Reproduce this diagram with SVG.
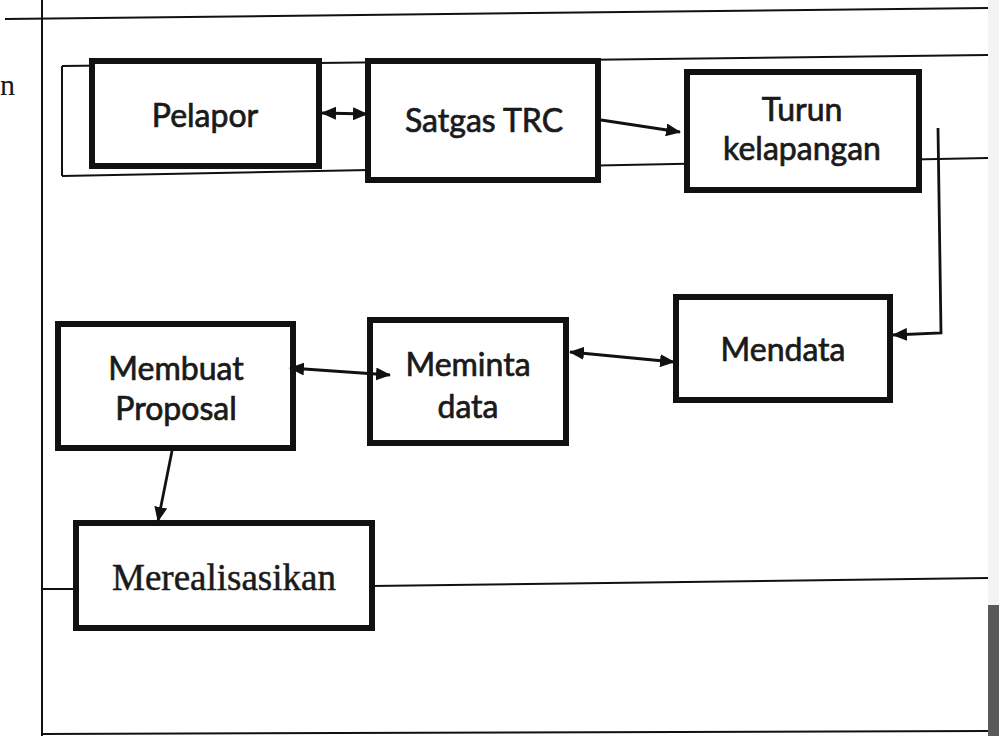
<svg xmlns="http://www.w3.org/2000/svg" width="999" height="736" viewBox="0 0 999 736">
<style>
.box{fill:#fff;stroke:#111;stroke-width:6}
.thin{fill:none;stroke:#111;stroke-width:2}
.con{fill:none;stroke:#111;stroke-width:2.8}
.lbl{font-family:Lato,"Open Sans",sans-serif;font-size:32px;fill:#1a1a1a;stroke:#1a1a1a;stroke-width:0.7;text-anchor:middle}
.ser{font-family:"Liberation Serif",serif;font-size:37px;fill:#1a1a1a;stroke:#1a1a1a;stroke-width:0.5;text-anchor:middle}
</style>
<defs>
<marker id="ah" viewBox="0 0 15 13" refX="14" refY="6.5" markerWidth="15" markerHeight="13" markerUnits="userSpaceOnUse" orient="auto-start-reverse">
<path d="M0,0 L15,6.5 L0,13 Z" fill="#111"/>
</marker>
</defs>
<rect x="0" y="0" width="999" height="736" fill="#fff"/>
<rect x="988" y="0" width="11" height="605" fill="#f3f3f3"/>
<rect x="988" y="605" width="11" height="131" fill="#5a5a5a"/>
<g id="frame">
<line class="thin" x1="42" y1="0" x2="42" y2="736"/>
<line class="thin" x1="5" y1="19" x2="988" y2="8"/>
<line class="thin" x1="62" y1="66" x2="988" y2="55"/>
<line class="thin" x1="62" y1="176" x2="988" y2="158"/>
<line class="thin" x1="62" y1="66" x2="62" y2="176"/>
<line class="thin" x1="42" y1="589" x2="76" y2="589"/>
<line class="thin" x1="372" y1="586" x2="988" y2="578"/>
<line class="thin" x1="42" y1="734" x2="988" y2="731"/>
<text x="0" y="95" style="font-family:'Liberation Serif',serif;font-size:30px;fill:#1a1a1a">n</text>
</g>
<g id="pelapor">
<rect class="box" x="92" y="61" width="227" height="105"/>
<text class="lbl" x="205" y="127">Pelapor</text>
</g>
<g id="satgas">
<rect class="box" x="368" y="61" width="230" height="119"/>
<text class="lbl" x="484" y="132">Satgas TRC</text>
</g>
<g id="turun">
<rect class="box" x="687" y="72" width="232" height="118"/>
<text class="lbl" x="802" y="121">Turun</text>
<text class="lbl" x="802" y="160">kelapangan</text>
</g>
<g id="mendata">
<rect class="box" x="676" y="297" width="214" height="103"/>
<text class="lbl" x="783" y="361">Mendata</text>
</g>
<g id="meminta">
<rect class="box" x="370" y="320" width="196" height="123"/>
<text class="lbl" x="468" y="376">Meminta</text>
<text class="lbl" x="468" y="418">data</text>
</g>
<g id="membuat">
<rect class="box" x="58" y="324" width="235" height="124"/>
<text class="lbl" x="176" y="380">Membuat</text>
<text class="lbl" x="176" y="420">Proposal</text>
</g>
<g id="merealisasikan">
<rect class="box" x="76" y="523" width="296" height="105"/>
<text class="ser" x="224" y="590">Merealisasikan</text>
</g>
<g id="connectors">
<line class="con" x1="322" y1="113" x2="367" y2="114" marker-start="url(#ah)" marker-end="url(#ah)"/>
<line class="con" x1="601" y1="120" x2="680" y2="132" marker-end="url(#ah)"/>
<polyline class="con" points="938,128 941,333 893,335" marker-end="url(#ah)"/>
<line class="con" x1="570" y1="352" x2="674" y2="362" marker-start="url(#ah)" marker-end="url(#ah)"/>
<line class="con" x1="290" y1="368" x2="390" y2="375" marker-start="url(#ah)" marker-end="url(#ah)"/>
<line class="con" x1="172" y1="451" x2="158" y2="521" marker-end="url(#ah)"/>
</g>
</svg>
